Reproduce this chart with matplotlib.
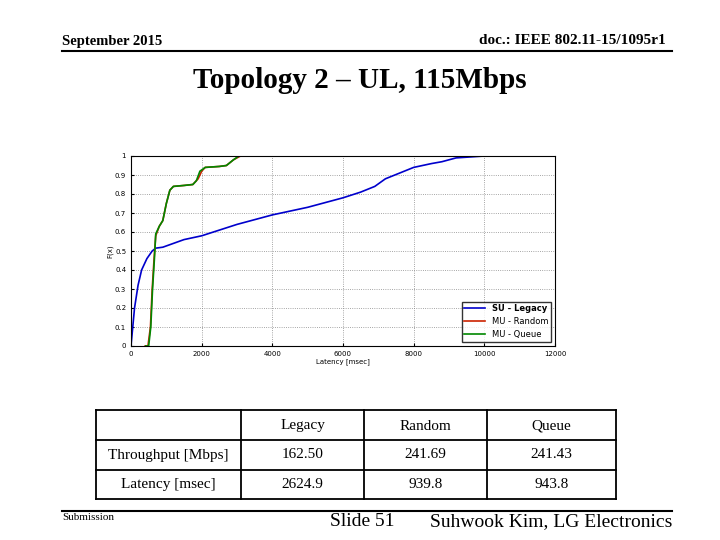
import matplotlib
matplotlib.use("Agg")
import matplotlib.pyplot as plt
from matplotlib.lines import Line2D

legacy_x = [0, 50, 100, 200, 300, 450, 600, 700, 900, 1200, 1500, 2000, 3000, 4000, 5000, 6000, 6500, 6900, 7200, 7600, 8000, 8500, 8800, 9200, 10000, 10400]
legacy_y = [0, 0.1, 0.2, 0.32, 0.4, 0.46, 0.5, 0.515, 0.52, 0.54, 0.56, 0.58, 0.64, 0.69, 0.73, 0.78, 0.81, 0.84, 0.88, 0.91, 0.94, 0.96, 0.97, 0.99, 1.0, 1.0]
random_x = [400, 480, 550, 600, 650, 700, 800, 900, 1000, 1100, 1200, 1500, 1750, 1900, 2000, 2100, 2500, 2700, 2900, 3100, 3300]
random_y = [0, 0, 0.1, 0.3, 0.45, 0.58, 0.63, 0.66, 0.75, 0.82, 0.84, 0.845, 0.85, 0.88, 0.92, 0.94, 0.945, 0.95, 0.98, 1.0, 1.0]
queue_x = [420, 500, 560, 610, 660, 700, 800, 900, 1000, 1100, 1200, 1500, 1750, 1850, 1950, 2100, 2500, 2700, 2900, 3050, 3300]
queue_y = [0, 0, 0.1, 0.3, 0.45, 0.59, 0.63, 0.66, 0.75, 0.82, 0.84, 0.845, 0.85, 0.87, 0.92, 0.94, 0.945, 0.95, 0.98, 1.0, 1.0]

col_labels = ["", "Legacy", "Random", "Queue"]
row_labels = ["Throughput [Mbps]", "Latency [msec]"]
cells = [["162.50", "241.69", "241.43"], ["2624.9", "939.8", "943.8"]]

W, H = 720, 540
fig = plt.figure(figsize=(7.2, 5.4), dpi=100)
serif = "Liberation Serif"

def fx(x): return x / W
def fy(y): return 1 - y / H

# header / footer
fig.text(fx(62), fy(42), "September 2015", family=serif, fontsize=10.5, fontweight="bold", va="center")
fig.text(fx(666), fy(40), "doc.: IEEE 802.11-15/1095r1", family=serif, fontsize=11, fontweight="bold", va="center", ha="right")
fig.add_artist(Line2D([fx(62), fx(672)], [fy(51), fy(51)], color="black", lw=1.5))
fig.text(fx(360), fy(80), "Topology 2 – UL, 115Mbps", family=serif, fontsize=21, fontweight="bold", ha="center", va="center")
fig.add_artist(Line2D([fx(62), fx(672)], [fy(511), fy(511)], color="black", lw=1.5))
fig.text(fx(62), fy(518), "Submission", family=serif, fontsize=8, va="center")
fig.text(fx(362), fy(522), "Slide 51", family=serif, fontsize=14, ha="center", va="center")
fig.text(fx(672), fy(522), "Suhwook Kim, LG Electronics", family=serif, fontsize=14, ha="right", va="center")

# chart
ax = fig.add_axes([fx(131), fy(346), fx(555 - 131), (346 - 156) / H])
ax.plot(legacy_x, legacy_y, color="#0000cc", lw=1.2, label="SU - Legacy")
ax.plot(random_x, random_y, color="#cc2200", lw=1.2, label="MU - Random")
ax.plot(queue_x, queue_y, color="#008800", lw=1.2, label="MU - Queue")
ax.set_xlim(0, 12000)
ax.set_ylim(0, 1)
ax.set_xticks(range(0, 12001, 2000))
ax.set_yticks([i / 10 for i in range(11)])
ax.set_yticklabels(["0", "0.1", "0.2", "0.3", "0.4", "0.5", "0.6", "0.7", "0.8", "0.9", "1"])
ax.tick_params(labelsize=5, length=2, direction="in")
ax.grid(True, ls=":", color="#888888", lw=0.6)
ax.set_xlabel("Latency [msec]", fontsize=5, labelpad=1)
ax.set_ylabel("F(x)", fontsize=5, labelpad=1)
leg = ax.legend(loc="lower right", fontsize=6, frameon=True, fancybox=False, handlelength=2.5, borderpad=0.3)
leg.get_frame().set_edgecolor("black")
leg.get_texts()[0].set_fontweight("bold")

# table
xs = [96, 241, 364, 487, 616]
ys = [410, 440, 470, 499]
for x in xs:
    fig.add_artist(Line2D([fx(x), fx(x)], [fy(ys[0]), fy(ys[-1])], color="black", lw=1.3))
for y in ys:
    fig.add_artist(Line2D([fx(xs[0]), fx(xs[-1])], [fy(y), fy(y)], color="black", lw=1.3))
for j, lab in enumerate(col_labels):
    if lab:
        fig.text(fx((xs[j] + xs[j + 1]) / 2), fy((ys[0] + ys[1]) / 2 + 1), lab, family=serif, fontsize=11, ha="center", va="center")
for i, rl in enumerate(row_labels):
    yc = (ys[i + 1] + ys[i + 2]) / 2
    fig.text(fx((xs[0] + xs[1]) / 2), fy(yc), rl, family=serif, fontsize=11, ha="center", va="center")
    for j, v in enumerate(cells[i]):
        fig.text(fx((xs[j + 1] + xs[j + 2]) / 2), fy(yc), v, family=serif, fontsize=11, ha="center", va="center")

fig.savefig("out.png", dpi=100)
